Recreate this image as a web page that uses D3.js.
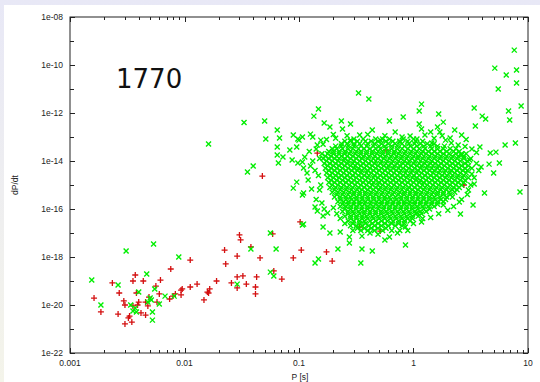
<!DOCTYPE html>
<html lang="en">
<head>
<meta charset="UTF-8">
<title>P - Pdot</title>
<script src="https://cdn.jsdelivr.net/npm/d3@7"></script>
<style>
  html, body { margin: 0; padding: 0; }
  body { width: 540px; height: 382px; overflow: hidden; }
  text { font-family: "Liberation Sans", Helvetica, Arial, sans-serif; }
</style>
</head>
<body>
<div id="chart"></div>
<script>
// axis ticks
var pTicks = [0.001, 0.01, 0.1, 1, 10];
var pTickLabels = ["0.001", "0.01", "0.1", "1", "10"];
var pdotTicks = [1e-8, 1e-10, 1e-12, 1e-14, 1e-16, 1e-18, 1e-20, 1e-22];
var pdotTickLabels = ["1e-08", "1e-10", "1e-12", "1e-14", "1e-16", "1e-18", "1e-20", "1e-22"];
var pdotMinor = [1e-9, 1e-11, 1e-13, 1e-15, 1e-17, 1e-19, 1e-21];

// red "+" points, [log10 P, log10 Pdot]
var binaryPts = [
  [-2.79,-19.71],[-2.73,-20.29],[-2.63,-19.08],[-2.57,-19.5],[-2.58,-20.38],[-2.53,-19.83],[-2.52,-20.0],
  [-2.48,-20.46],[-2.49,-20.54],[-2.52,-20.79],[-2.46,-20.71],[-2.45,-19.0],[-2.43,-18.75],[-2.42,-19.5],
  [-2.45,-20.04],[-2.41,-20.0],[-2.40,-19.88],[-2.38,-20.33],[-2.36,-19.0],[-2.34,-20.42],[-2.34,-19.88],
  [-2.32,-20.04],[-2.31,-19.67],[-2.25,-19.21],[-2.22,-19.54],[-2.24,-19.88],[-2.21,-18.96],[-2.12,-18.5],
  [-2.13,-19.75],[-2.10,-19.63],[-2.08,-19.54],[-2.03,-19.58],[-2.03,-19.38],[-1.95,-19.25],[-1.95,-18.13],
  [-1.89,-19.13],[-1.83,-19.79],[-1.80,-19.46],
  [-1.32,-14.63],[-1.52,-17.08],[-1.51,-17.29],[-1.65,-17.71],[-1.54,-17.96],[-1.42,-17.58],[-1.34,-18.04],
  [-1.64,-18.29],[-1.23,-17.04],[-0.99,-16.54],[-0.98,-17.71],[-1.05,-18.04],[-1.54,-18.83],[-1.49,-18.79],
  [-1.37,-18.83],[-1.22,-18.58],[-1.15,-18.92],[-1.72,-19.0],[-1.59,-19.08],[-1.54,-19.29],[-1.46,-19.13],
  [-1.38,-19.25],[-1.38,-19.54],[-2.02,-19.33],[-1.78,-19.33],[-1.79,-19.5],
  [-0.84,-13.67],[-0.76,-17.79],[-0.71,-18.17],[-0.24,-13.54],[-0.47,-16.75],[-0.29,-16.92],[0.44,-15.0]
];

// green "x" points outside the dense core, [log10 P, log10 Pdot]
var isolatedPts = [
  [-2.81,-18.96],[-2.73,-20.0],[-2.58,-19.17],[-2.51,-17.75],[-2.27,-17.46],[-2.05,-18.0],[-2.33,-18.71],
  [-2.40,-19.46],[-2.26,-19.33],[-2.30,-19.71],[-2.29,-19.79],[-2.32,-19.88],[-2.22,-19.96],[-2.17,-19.63],
  [-2.09,-19.63],[-2.43,-20.13],[-2.45,-20.25],[-2.42,-20.29],[-2.28,-20.29],[-2.28,-20.63],[-2.47,-20.0],
  [-1.79,-13.29],[-1.45,-14.46],[-1.40,-14.21],[-1.29,-13.08],[-1.25,-17.0],[-1.20,-17.67],[-1.42,-17.67],
  [-1.25,-18.63],[-1.22,-18.79],[-1.54,-19.13],[-0.97,-16.67],[-1.48,-12.4],[-1.30,-12.33],
  [-1.19,-12.71],[-1.17,-13.04],[-1.19,-13.42],[-1.19,-13.75],[-1.14,-13.83],[-1.18,-14.08],[-1.05,-12.92],
  [-1.02,-13.42],[-1.08,-13.54],[-1.0,-13.13],[-1.01,-14.08],[-0.96,-14.29],[-0.93,-14.5],[-1.02,-14.88],
  [-1.05,-15.13],[-0.96,-15.33],[-0.92,-14.79],[-1.06,-13.96],[-1.01,-13.08],
  [-0.48,-11.17],[-0.39,-11.42],[-0.83,-11.83],[-0.87,-12.13],[-0.63,-12.33],[-0.21,-12.33],[-0.09,-12.17],
  [-0.78,-12.42],[-0.73,-12.58],[-0.55,-12.46],[-0.62,-12.67],[-0.97,-13.0],[-0.90,-12.88],[-0.88,-13.0],
  [-0.81,-13.13],[-0.84,-13.33],[-0.95,-13.83],[-0.97,-14.04],[-0.90,-14.21],[-0.97,-15.42],[-0.89,-15.17],
  [-0.82,-15.21],[-0.86,-15.92],[-0.84,-16.08],[-0.79,-16.29],[-0.75,-16.17],[-0.79,-16.75],[-0.73,-17.0],
  [-0.96,-16.63],[-0.64,-16.96],[-0.56,-17.17],[-0.56,-17.42],[-0.45,-17.13],[-0.66,-17.67],[-0.45,-17.67],
  [-0.36,-17.75],[-0.46,-18.25],[-0.86,-18.25],[-0.83,-18.08],[-0.07,-17.5],[-0.21,-17.17],[-0.25,-17.29],
  [-0.07,-16.75],
  [0.88,-9.38],[0.71,-10.13],[0.90,-10.21],[0.81,-10.42],[0.90,-10.75],[0.74,-11.0],[0.94,-11.71],
  [0.83,-11.92],[0.84,-12.29],[0.53,-11.79],[0.60,-12.13],[0.63,-12.25],[0.54,-12.54],[0.07,-11.63],
  [0.05,-11.92],[0.22,-12.04],[0.26,-12.38],[0.05,-12.46],[0.07,-12.67],[0.21,-12.58],[0.23,-12.79],
  [0.36,-12.71],[0.42,-12.92],[0.32,-13.04],[0.15,-12.79],[0.16,-13.25],[0.89,-13.25],[0.80,-13.33],
  [0.58,-13.42],[0.51,-13.5],[0.72,-13.63],[0.67,-13.67],[0.75,-14.08],[0.66,-14.13],[0.59,-14.25],
  [0.70,-14.5],[0.51,-14.54],[0.53,-14.96],[0.48,-15.21],[0.62,-15.33],[0.93,-15.29],[0.40,-15.71],
  [0.52,-15.83],[0.41,-16.21],[0.26,-15.83],[0.07,-16.54],[0.03,-16.17],
  [0.10,-12.92],[0.28,-13.13],[0.39,-13.33],[0.42,-13.75],[0.49,-13.96],[-0.47,-12.92],[-0.36,-12.71],
  [-0.16,-12.79],[-0.03,-12.96],[-0.55,-13.13],[-0.29,-13.13],[-0.12,-13.21],
  // ragged edge of the core
  [-0.85,-13.5],[-0.82,-13.9],[-0.86,-14.4],[-0.83,-14.6],[-0.81,-15.0],[-0.85,-15.6],[-0.80,-15.75],
  [-0.78,-16.0],[-0.88,-14.0],[-0.91,-13.6],[-0.79,-13.3],[-0.76,-13.1],[-0.68,-13.05],[-0.70,-12.9],
  [-0.58,-12.95],[-0.40,-12.9],[-0.25,-12.95],[-0.10,-13.0],[0.03,-13.08],[0.18,-13.05],[0.25,-12.95],
  [0.33,-13.25],[0.45,-13.4],[0.55,-13.65],[0.46,-13.1],
  [0.55,-14.1],[0.57,-14.4],[0.53,-14.7],[0.50,-15.0],[0.47,-15.4],[0.42,-15.6],[0.35,-15.9],[0.30,-16.05],
  [0.22,-16.2],[0.15,-16.35],
  [0.08,-16.4],[0.00,-16.6],[-0.05,-16.9],[-0.14,-17.0],[-0.31,-17.05],[-0.38,-17.0],[-0.53,-16.9],
  [-0.60,-16.6],[-0.64,-16.4],[-0.67,-16.2],[-0.70,-15.95]
];

// dense core of green points, rows of [log10 Pdot, [log10 P ...]]
var isolatedCore = [
  [-13.08, [-0.52,-0.44,-0.33,-0.27,-0.21,-0.09,0.00]],
  [-13.18, [-0.60,-0.55,-0.49,-0.42,-0.37,-0.31,-0.24,-0.18,-0.12,-0.05,0.02,0.08]],
  [-13.28, [-0.63,-0.58,-0.52,-0.47,-0.40,-0.34,-0.28,-0.22,-0.16,-0.10,-0.04,0.01,0.06,0.12,0.18]],
  [-13.38, [-0.68,-0.63,-0.57,-0.52,-0.46,-0.41,-0.35,-0.30,-0.25,-0.19,-0.14,-0.08,-0.03,0.03,0.09,0.15,0.21,0.27]],
  [-13.49, [-0.71,-0.67,-0.62,-0.57,-0.53,-0.48,-0.43,-0.38,-0.33,-0.29,-0.24,-0.19,-0.14,-0.10,-0.05,0.00,0.05,0.10,0.16,0.21,0.26,0.32,0.37]],
  [-13.60, [-0.74,-0.70,-0.65,-0.60,-0.55,-0.50,-0.46,-0.41,-0.36,-0.31,-0.27,-0.22,-0.17,-0.12,-0.07,-0.02,0.03,0.08,0.13,0.18,0.23,0.29,0.35,0.40]],
  [-13.70, [-0.80,-0.75,-0.70,-0.65,-0.60,-0.56,-0.51,-0.46,-0.41,-0.36,-0.32,-0.27,-0.22,-0.17,-0.13,-0.08,-0.03,0.02,0.07,0.11,0.16,0.21,0.26,0.31,0.37,0.42,0.46]],
  [-13.80, [-0.77,-0.72,-0.67,-0.63,-0.58,-0.53,-0.48,-0.44,-0.39,-0.34,-0.29,-0.25,-0.20,-0.15,-0.10,-0.05,0.00,0.04,0.09,0.14,0.19,0.24,0.29,0.34,0.39,0.44]],
  [-13.90, [-0.79,-0.74,-0.69,-0.65,-0.60,-0.55,-0.50,-0.45,-0.40,-0.35,-0.31,-0.26,-0.21,-0.16,-0.11,-0.06,-0.01,0.04,0.08,0.13,0.18,0.23,0.28,0.33,0.38,0.44,0.50]],
  [-14.00, [-0.76,-0.71,-0.66,-0.61,-0.57,-0.52,-0.47,-0.42,-0.37,-0.33,-0.28,-0.23,-0.18,-0.13,-0.08,-0.04,0.01,0.06,0.11,0.16,0.21,0.26,0.31,0.36,0.41,0.47]],
  [-14.10, [-0.78,-0.73,-0.68,-0.63,-0.58,-0.53,-0.49,-0.44,-0.39,-0.34,-0.29,-0.24,-0.19,-0.14,-0.09,-0.05,0.00,0.05,0.10,0.15,0.19,0.24,0.29,0.34,0.39,0.45]],
  [-14.20, [-0.75,-0.70,-0.65,-0.60,-0.55,-0.51,-0.46,-0.41,-0.36,-0.31,-0.26,-0.22,-0.17,-0.12,-0.07,-0.02,0.03,0.07,0.12,0.17,0.22,0.27,0.32,0.37,0.42,0.48]],
  [-14.30, [-0.77,-0.72,-0.67,-0.62,-0.57,-0.52,-0.48,-0.43,-0.38,-0.33,-0.28,-0.23,-0.18,-0.13,-0.09,-0.04,0.01,0.06,0.11,0.16,0.21,0.25,0.30,0.35,0.40,0.45,0.51]],
  [-14.40, [-0.74,-0.69,-0.64,-0.59,-0.54,-0.49,-0.45,-0.40,-0.35,-0.30,-0.25,-0.20,-0.15,-0.11,-0.06,-0.01,0.04,0.09,0.14,0.18,0.23,0.28,0.33,0.38,0.43,0.47]],
  [-14.50, [-0.76,-0.71,-0.66,-0.61,-0.56,-0.51,-0.46,-0.41,-0.37,-0.32,-0.27,-0.22,-0.17,-0.12,-0.07,-0.02,0.03,0.07,0.12,0.17,0.22,0.27,0.32,0.36,0.41,0.46]],
  [-14.60, [-0.73,-0.68,-0.63,-0.58,-0.53,-0.48,-0.43,-0.39,-0.34,-0.29,-0.24,-0.19,-0.14,-0.09,-0.05,0.00,0.05,0.10,0.15,0.20,0.25,0.29,0.34,0.39,0.44]],
  [-14.70, [-0.75,-0.70,-0.65,-0.60,-0.55,-0.50,-0.45,-0.40,-0.35,-0.31,-0.26,-0.21,-0.16,-0.11,-0.06,-0.01,0.03,0.08,0.13,0.18,0.23,0.28,0.33,0.38,0.43,0.48]],
  [-14.80, [-0.72,-0.67,-0.62,-0.57,-0.52,-0.47,-0.42,-0.37,-0.33,-0.28,-0.23,-0.18,-0.13,-0.08,-0.03,0.02,0.06,0.11,0.16,0.21,0.26,0.31,0.36,0.41,0.45]],
  [-14.90, [-0.74,-0.69,-0.64,-0.59,-0.54,-0.49,-0.44,-0.39,-0.35,-0.30,-0.25,-0.20,-0.15,-0.10,-0.05,0.00,0.05,0.09,0.14,0.19,0.24,0.29,0.34,0.39,0.44]],
  [-15.00, [-0.71,-0.66,-0.61,-0.56,-0.51,-0.46,-0.41,-0.36,-0.31,-0.27,-0.22,-0.17,-0.12,-0.07,-0.02,0.03,0.08,0.12,0.17,0.22,0.27,0.32,0.37,0.42]],
  [-15.10, [-0.73,-0.68,-0.63,-0.58,-0.53,-0.48,-0.43,-0.38,-0.33,-0.29,-0.24,-0.19,-0.14,-0.09,-0.04,0.01,0.06,0.10,0.15,0.20,0.25,0.30,0.35,0.40]],
  [-15.20, [-0.69,-0.64,-0.59,-0.54,-0.49,-0.45,-0.40,-0.35,-0.30,-0.25,-0.20,-0.15,-0.10,-0.05,-0.01,0.04,0.09,0.14,0.19,0.24,0.29,0.34,0.38]],
  [-15.30, [-0.71,-0.66,-0.61,-0.56,-0.52,-0.47,-0.42,-0.37,-0.32,-0.27,-0.22,-0.17,-0.12,-0.08,-0.03,0.02,0.07,0.12,0.17,0.21,0.26,0.31,0.36]],
  [-15.40, [-0.67,-0.62,-0.57,-0.52,-0.47,-0.42,-0.38,-0.33,-0.28,-0.23,-0.18,-0.13,-0.08,-0.03,0.02,0.06,0.11,0.16,0.21,0.26,0.32]],
  [-15.50, [-0.69,-0.64,-0.59,-0.55,-0.50,-0.45,-0.40,-0.35,-0.30,-0.25,-0.21,-0.16,-0.11,-0.06,-0.01,0.04,0.09,0.14,0.18,0.23,0.29,0.34]],
  [-15.60, [-0.64,-0.59,-0.54,-0.50,-0.45,-0.40,-0.35,-0.30,-0.25,-0.20,-0.15,-0.11,-0.06,-0.01,0.04,0.09,0.14,0.19,0.24,0.28]],
  [-15.70, [-0.66,-0.61,-0.57,-0.52,-0.47,-0.42,-0.37,-0.32,-0.28,-0.23,-0.18,-0.13,-0.08,-0.03,0.01,0.06,0.11,0.16,0.21,0.26]],
  [-15.80, [-0.62,-0.57,-0.52,-0.47,-0.43,-0.38,-0.33,-0.28,-0.23,-0.18,-0.13,-0.08,-0.04,0.01,0.06,0.11,0.16,0.21]],
  [-15.90, [-0.64,-0.59,-0.55,-0.50,-0.45,-0.40,-0.35,-0.30,-0.26,-0.21,-0.16,-0.11,-0.06,-0.01,0.03,0.08,0.13,0.18]],
  [-16.00, [-0.60,-0.55,-0.50,-0.45,-0.40,-0.36,-0.31,-0.26,-0.21,-0.16,-0.11,-0.06,-0.01,0.04,0.09,0.14]],
  [-16.10, [-0.62,-0.57,-0.53,-0.48,-0.43,-0.38,-0.33,-0.28,-0.24,-0.19,-0.14,-0.09,-0.04,0.01,0.06,0.11]],
  [-16.20, [-0.57,-0.52,-0.47,-0.43,-0.38,-0.33,-0.28,-0.23,-0.18,-0.13,-0.08,-0.03,0.02,0.07]],
  [-16.30, [-0.60,-0.55,-0.50,-0.45,-0.41,-0.36,-0.31,-0.26,-0.21,-0.16,-0.11,-0.06,-0.01,0.04]],
  [-16.40, [-0.55,-0.50,-0.45,-0.40,-0.35,-0.30,-0.25,-0.20,-0.15,-0.10,-0.05,-0.01]],
  [-16.50, [-0.57,-0.52,-0.47,-0.43,-0.38,-0.33,-0.28,-0.23,-0.18,-0.13,-0.08,-0.03]],
  [-16.60, [-0.53,-0.47,-0.42,-0.36,-0.31,-0.25,-0.19,-0.13,-0.08]],
  [-16.70, [-0.55,-0.50,-0.45,-0.39,-0.34,-0.28,-0.22,-0.16,-0.10]],
  [-16.80, [-0.49,-0.43,-0.37,-0.31,-0.24]],
  [-16.90, [-0.46,-0.40,-0.34,-0.27,-0.19,-0.12]]
];

var W = 540, H = 382;
var plot = {left: 70, right: 528, top: 17, bottom: 353};

var svg = d3.select("#chart").append("svg")
    .attr("width", W).attr("height", H);

// background: lavender frame, white panel
var defs = svg.append("defs");
var grad = defs.append("linearGradient").attr("id", "bg").attr("x1", 0).attr("y1", 0).attr("x2", 0).attr("y2", 1);
grad.append("stop").attr("offset", "0%").attr("stop-color", "#e8e8f6");
grad.append("stop").attr("offset", "100%").attr("stop-color", "#f4f4ea");
svg.append("rect").attr("width", W).attr("height", H).attr("fill", "url(#bg)");
svg.append("rect").attr("x", 4).attr("y", 5).attr("width", W - 4).attr("height", H - 5).attr("fill", "#fff");

var x = d3.scaleLog().domain([0.001, 10]).range([plot.left, plot.right]);
var y = d3.scaleLog().domain([1e-22, 1e-8]).range([plot.bottom, plot.top]);

var px = function(d) { return x(Math.pow(10, d[0])); };
var py = function(d) { return y(Math.pow(10, d[1])); };

// markers: red first, green drawn over it
var red = svg.append("g").attr("stroke", "#d41010").attr("stroke-width", 1.3).attr("fill", "none");
red.selectAll("path").data(binaryPts).enter().append("path")
    .attr("transform", function(d) { return "translate(" + px(d) + "," + py(d) + ")"; })
    .attr("d", "M-3,0H3M0,-3V3");

var corePts = [];
isolatedCore.forEach(function(row) {
  row[1].forEach(function(lp) { corePts.push([lp, row[0]]); });
});

var green = svg.append("g").attr("stroke", "#00ee00").attr("stroke-width", 1.4).attr("fill", "none");
green.selectAll("path").data(isolatedPts.concat(corePts)).enter().append("path")
    .attr("transform", function(d) { return "translate(" + px(d) + "," + py(d) + ")"; })
    .attr("d", "M-2.5,-2.5L2.5,2.5M-2.5,2.5L2.5,-2.5");

// frame and ticks
var axes = svg.append("g").attr("stroke", "#222").attr("stroke-width", 1).attr("fill", "none");
axes.append("rect")
    .attr("x", plot.left).attr("y", plot.top)
    .attr("width", plot.right - plot.left).attr("height", plot.bottom - plot.top);

var pMinor = [];
[0.001, 0.01, 0.1, 1].forEach(function(dec) {
  for (var m = 2; m <= 9; m++) pMinor.push(m * dec);
});

function vtick(v, len) {
  var xx = Math.round(x(v)) + 0.5;
  axes.append("line").attr("x1", xx).attr("x2", xx).attr("y1", plot.bottom).attr("y2", plot.bottom - len);
  axes.append("line").attr("x1", xx).attr("x2", xx).attr("y1", plot.top).attr("y2", plot.top + len);
}
function htick(v, len) {
  var yy = Math.round(y(v)) + 0.5;
  axes.append("line").attr("x1", plot.left).attr("x2", plot.left + len).attr("y1", yy).attr("y2", yy);
  axes.append("line").attr("x1", plot.right).attr("x2", plot.right - len).attr("y1", yy).attr("y2", yy);
}
pTicks.forEach(function(v) { vtick(v, 5); });
pMinor.forEach(function(v) { vtick(v, 3); });
pdotTicks.forEach(function(v) { htick(v, 5); });
pdotMinor.forEach(function(v) { htick(v, 4); });

// tick labels
var labels = svg.append("g").attr("fill", "#222").style("font-size", "8.5px");
labels.selectAll(".xl").data(pTicks).enter().append("text")
    .attr("x", function(d) { return x(d); })
    .attr("y", 366)
    .attr("text-anchor", "middle")
    .text(function(d, i) { return pTickLabels[i]; });
labels.selectAll(".yl").data(pdotTicks).enter().append("text")
    .attr("x", 63)
    .attr("y", function(d) { return y(d) + 3; })
    .attr("text-anchor", "end")
    .text(function(d, i) { return pdotTickLabels[i]; });

// axis titles
labels.append("text").attr("x", 300).attr("y", 380).attr("text-anchor", "middle").text("P [s]");
labels.append("text")
    .attr("transform", "translate(18,185) rotate(-90)")
    .attr("text-anchor", "middle").text("dP/dt");

svg.append("text")
    .attr("x", 116).attr("y", 88)
    .style("font-family", "'DejaVu Sans', sans-serif")
    .style("font-size", "26px")
    .attr("fill", "#111")
    .text("1770");
</script>
</body>
</html>
